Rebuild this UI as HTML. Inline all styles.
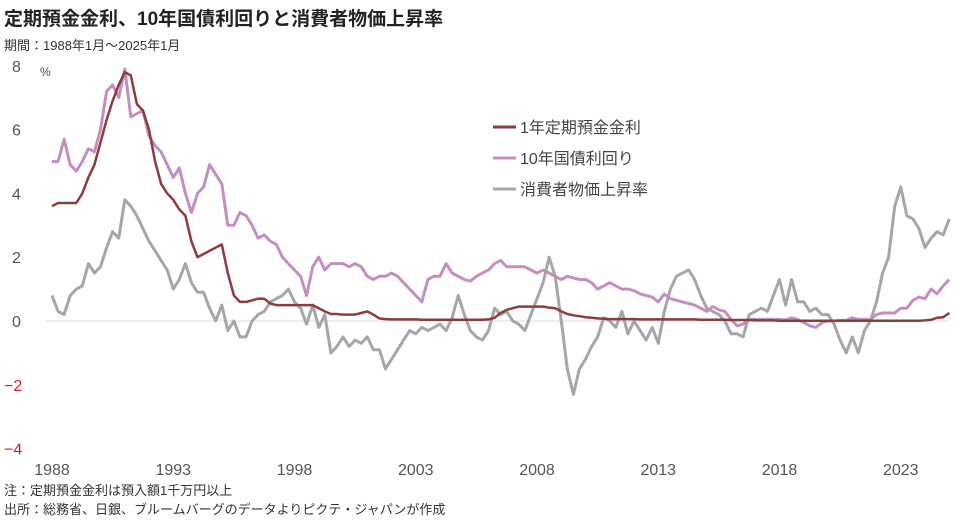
<!DOCTYPE html>
<html><head><meta charset="utf-8"><style>
body{margin:0;background:#fff;font-family:"Liberation Sans","Noto Sans CJK JP",sans-serif;}
svg text{font-family:"Liberation Sans","Noto Sans CJK JP",sans-serif;}
</style></head><body>
<svg id="c" width="959" height="524">
<text x="4" y="25" font-size="19" font-weight="bold" fill="#222">定期預金金利、10年国債利回りと消費者物価上昇率</text>
<text x="4" y="50" font-size="13" fill="#333">期間：1988年1月～2025年1月</text>
<text x="40" y="76" font-size="12" fill="#444">%</text>
<g id="yaxis"></g>
<g id="xaxis"></g>
<g id="series"></g>
<g>
<g><line x1="493" y1="127" x2="516" y2="127" stroke="#8e3b3e" stroke-width="3"/><text x="520" y="133" font-size="16" fill="#444">1年定期預金金利</text></g>
<g><line x1="493" y1="158" x2="516" y2="158" stroke="#c48fbf" stroke-width="3"/><text x="520" y="164" font-size="16" fill="#444">10年国債利回り</text></g>
<g><line x1="493" y1="189" x2="516" y2="189" stroke="#a6a6a6" stroke-width="3"/><text x="520" y="195" font-size="16" fill="#444">消費者物価上昇率</text></g>
</g>
<text x="4" y="495" font-size="13" fill="#333">注：定期預金金利は預入額1千万円以上</text>
<text x="4" y="514" font-size="13" fill="#333">出所：総務省、日銀、ブルームバーグのデータよりピクテ・ジャパンが作成</text>
</svg>
<script>
const yTicks=[8,6,4,2,0,-2,-4];
const xTickYears=[1988,1993,1998,2003,2008,2013,2018,2023];
const deposit=[
3.6,3.7,3.7,3.7,
3.7,4.0,4.5,4.9,
5.6,6.3,6.9,7.4,
7.8,7.7,6.8,6.6,
6.0,5.0,4.3,4.0,
3.8,3.5,3.3,2.5,
2.0,2.1,2.2,2.3,
2.4,1.5,0.8,0.6,
0.6,0.65,0.7,0.7,
0.55,0.5,0.5,0.5,
0.5,0.5,0.5,0.5,
0.4,0.3,0.22,0.22,
0.2,0.2,0.2,0.25,
0.3,0.2,0.08,0.06,
0.05,0.05,0.05,0.05,
0.05,0.04,0.04,0.04,
0.04,0.04,0.04,0.04,
0.04,0.04,0.04,0.04,
0.05,0.1,0.25,0.35,
0.4,0.45,0.45,0.45,
0.45,0.45,0.42,0.4,
0.3,0.22,0.18,0.15,
0.12,0.1,0.08,0.07,
0.06,0.06,0.06,0.06,
0.06,0.05,0.05,0.05,
0.05,0.05,0.05,0.05,
0.05,0.05,0.05,0.04,
0.04,0.04,0.04,0.04,
0.03,0.03,0.03,0.03,
0.02,0.02,0.02,0.02,
0.01,0.01,0.01,0.01,
0.01,0.01,0.01,0.01,
0.01,0.01,0.01,0.01,
0.01,0.01,0.01,0.01,
0.01,0.01,0.01,0.01,
0.01,0.01,0.01,0.01,
0.02,0.04,0.1,0.12,
0.25];
const jgb=[5.0,5.0,5.7,4.9, 4.7,5.0,5.4,5.3, 6.0,7.2,7.4,7.0, 7.9,6.4,6.5,6.6, 5.8,5.5,5.3,4.9, 4.5,4.8,4.0,3.4, 4.0,4.2,4.9,4.6, 4.3,3.0,3.0,3.4, 3.3,3.0,2.6,2.7, 2.5,2.4,2.0,1.8, 1.6,1.4,0.8,1.7, 2.0,1.6,1.8,1.8, 1.8,1.7,1.8,1.7, 1.4,1.3,1.4,1.4, 1.5,1.4,1.2,1.0, 0.8,0.6,1.3,1.4, 1.4,1.8,1.5,1.4, 1.3,1.25,1.4,1.5, 1.6,1.8,1.9,1.7, 1.7,1.7,1.7,1.6, 1.5,1.6,1.5,1.4, 1.3,1.4,1.35,1.3, 1.3,1.2,1.0,1.1, 1.2,1.1,1.0,1.0, 0.95,0.85,0.8,0.75, 0.6,0.85,0.7,0.65, 0.6,0.55,0.5,0.4, 0.3,0.45,0.35,0.3, 0.05,-0.15,-0.1,0.05, 0.05,0.05,0.05,0.05, 0.05,0.03,0.1,0.05, -0.05,-0.15,-0.2,-0.05, 0.0,0.0,0.02,0.02, 0.1,0.05,0.05,0.05, 0.2,0.25,0.25,0.25, 0.4,0.4,0.65,0.75, 0.7,1.0,0.85,1.1, 1.3];
const cpi=[0.8,0.3,0.2,0.8, 1.0,1.1,1.8,1.5, 1.7,2.3,2.8,2.6, 3.8,3.6,3.3,2.9, 2.5,2.2,1.9,1.6, 1.0,1.3,1.8,1.2, 0.9,0.9,0.4,0.0, 0.5,-0.3,0.0,-0.5, -0.5,0.0,0.2,0.3, 0.6,0.7,0.8,1.0, 0.6,0.4,-0.1,0.5, -0.2,0.2,-1.0,-0.8, -0.5,-0.8,-0.6,-0.7, -0.5,-0.9,-0.9,-1.5, -1.2,-0.9,-0.6,-0.3, -0.4,-0.2,-0.3,-0.2, -0.1,-0.3,0.1,0.8, 0.2,-0.3,-0.5,-0.6, -0.3,0.4,0.2,0.3, 0.0,-0.1,-0.3,0.2, 0.7,1.2,2.0,1.4, 0.0,-1.5,-2.3,-1.5, -1.2,-0.8,-0.5,0.1, 0.0,-0.2,0.3,-0.4, 0.0,-0.3,-0.6,-0.2, -0.7,0.3,1.0,1.4, 1.5,1.6,1.3,0.8, 0.4,0.3,0.2,0.0, -0.4,-0.4,-0.5,0.2, 0.3,0.4,0.3,0.8, 1.3,0.5,1.3,0.6, 0.6,0.3,0.4,0.2, 0.2,-0.1,-0.6,-1.0, -0.5,-1.0,-0.3,0.0, 0.6,1.5,2.0,3.6, 4.2,3.3,3.2,2.9, 2.3,2.6,2.8,2.7, 3.2];
const NS="http://www.w3.org/2000/svg";
const x=t=>52+(t-1988)*24.25;
const y=v=>321-v*31.9;
const yg=document.getElementById('yaxis'),xg=document.getElementById('xaxis'),sg=document.getElementById('series');
function mk(tag,at,p){const e=document.createElementNS(NS,tag);for(const k in at)e.setAttribute(k,at[k]);p.appendChild(e);return e;}
const base=mk('line',{x1:45,x2:948,y1:y(0),y2:y(0),stroke:'#ddd','stroke-width':1},yg);


yTicks.forEach(v=>{const t=mk('text',{x:v<0?4:12,y:y(v)+6,'font-size':16,fill:v<0?'#d02030':'#555'},yg);t.textContent=v<0?'−'+(-v):v;

});
xTickYears.forEach(yr=>{const t=mk('text',{x:x(yr),y:475,'font-size':16,fill:'#555','text-anchor':'middle'},xg);t.textContent=yr;

});
function line(arr,color,w,name){const d=arr.map((v,i)=>(i?'L':'M')+x(1988+i/4).toFixed(1)+','+y(v).toFixed(1)).join('');
const p=mk('path',{d:d,fill:'none',stroke:color,'stroke-width':w,'stroke-linejoin':'round'},sg);

}
line(cpi,'#a6a6a6',3,'cpi-line');
line(jgb,'#c48fbf',3,'jgb-line');
line(deposit,'#8e3b3e',2.5,'deposit-line');
</script>
</body></html>
